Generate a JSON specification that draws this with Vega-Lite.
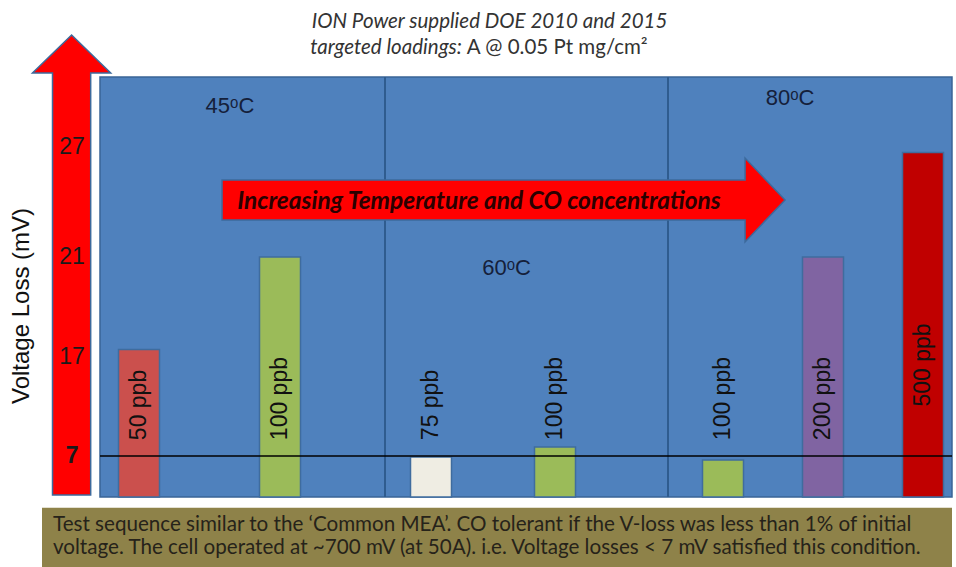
{
  "$schema": "https://vega.github.io/schema/vega-lite/v6.json",
  "width": 852,
  "height": 420,
  "autosize": {"type": "none"},
  "padding": {"left": 100, "top": 77, "right": 4, "bottom": 70},
  "background": "white",
  "config": {"view": {"fill": "#4F81BD", "stroke": "#3A6496", "strokeWidth": 1.5}, "font": "Liberation Sans"},
  "datasets": {
    "tests": [
      {"pos": 1, "temp": "45°C", "conc": "50 ppb", "loss": 17.3},
      {"pos": 2, "temp": "45°C", "conc": "100 ppb", "loss": 21},
      {"pos": 3, "temp": "60°C", "conc": "75 ppb", "loss": 6.9},
      {"pos": 4, "temp": "60°C", "conc": "100 ppb", "loss": 7.9},
      {"pos": 5, "temp": "80°C", "conc": "100 ppb", "loss": 6.6},
      {"pos": 6, "temp": "80°C", "conc": "200 ppb", "loss": 21},
      {"pos": 7, "temp": "80°C", "conc": "500 ppb", "loss": 26.7}
    ],
    "ticks": [{"tick": 7}, {"tick": 17}, {"tick": 21}, {"tick": 27}]
  },
  "layer": [
    {
      "layer": [
        {
          "data": {"values": [{"split": 2.5}, {"split": 4.5}]},
          "mark": {"type": "rule", "color": "#2F5C8F", "strokeWidth": 2},
          "encoding": {
            "x": {"field": "split", "type": "quantitative", "axis": null,
              "scale": {"domain": [0.5, 1, 2, 2.5, 3, 4, 4.5, 5, 6, 7, 7.5], "range": [0, 39, 180, 285, 331, 455, 568, 623, 723, 823, 852], "nice": false, "zero": false}}
          }
        },
        {
          "data": {"name": "tests"},
          "mark": {"type": "bar", "size": 41, "stroke": "#3F6C9E", "strokeWidth": 1.5},
          "encoding": {
            "x": {"field": "pos", "type": "quantitative", "axis": null},
            "y": {"field": "loss", "type": "quantitative", "axis": null,
              "scale": {"domain": [3, 7, 17, 21, 27, 30.8], "range": [420, 379, 280, 180, 70, 0], "nice": false, "zero": false}},
            "y2": {"datum": 3},
            "color": {"field": "conc", "type": "nominal", "legend": null,
              "scale": {"domain": ["50 ppb", "75 ppb", "100 ppb", "200 ppb", "500 ppb"], "range": ["#CB504D", "#EFEDE3", "#9BBB59", "#8064A2", "#C00000"]}}
          }
        },
        {
          "data": {"values": [{"limit": 7}]},
          "mark": {"type": "rule", "color": "#000000", "strokeWidth": 1.5},
          "encoding": {"y": {"field": "limit", "type": "quantitative", "axis": null}}
        },
        {
          "data": {"name": "tests"},
          "transform": [{"filter": "datum.conc != '500 ppb'"}],
          "mark": {"type": "text", "angle": 270, "align": "left", "baseline": "middle", "font": "Liberation Sans", "fontSize": 23, "color": "#111111"},
          "encoding": {
            "x": {"field": "pos", "type": "quantitative", "axis": null},
            "y": {"datum": 8.6, "type": "quantitative", "axis": null},
            "text": {"field": "conc"}
          }
        },
        {
          "data": {"name": "tests"},
          "transform": [{"filter": "datum.conc == '500 ppb'"}],
          "mark": {"type": "text", "angle": 270, "align": "left", "baseline": "middle", "font": "Liberation Sans", "fontSize": 23, "color": "#111111"},
          "encoding": {
            "x": {"field": "pos", "type": "quantitative", "axis": null},
            "y": {"datum": 12, "type": "quantitative", "axis": null},
            "text": {"field": "conc"}
          }
        },
        {
          "data": {"values": [{"note": "Increasing Temperature and CO concentrations"}]},
          "layer": [
            {
              "mark": {"type": "point", "shape": "M-1,-0.071L0.858,-0.071L0.858,-0.149L1,0L0.858,0.149L0.858,0.071L-1,0.071Z", "size": 316969, "filled": true, "color": "#FF0000", "stroke": "#3D6A9C", "strokeWidth": 1.5, "opacity": 1},
              "encoding": {
                "x": {"datum": 3.585, "type": "quantitative", "axis": null},
                "y": {"datum": 24.11, "type": "quantitative", "axis": null}
              }
            },
            {
              "mark": {"type": "text", "font": "Lato", "fontSize": 24.5, "fontWeight": "bold", "fontStyle": "italic", "color": "#2B0000", "align": "center", "baseline": "middle"},
              "encoding": {
                "x": {"datum": 3.387, "type": "quantitative", "axis": null},
                "y": {"datum": 24.0, "type": "quantitative", "axis": null},
                "text": {"field": "note"}
              }
            }
          ]
        },
        {
          "data": {"values": [{"temp": "45ᵒC"}]},
          "mark": {"type": "text", "font": "Liberation Sans", "fontSize": 22, "color": "#15203A", "align": "center", "baseline": "middle"},
          "encoding": {
            "x": {"datum": 1.645, "type": "quantitative", "axis": null},
            "y": {"datum": 29.24, "type": "quantitative", "axis": null},
            "text": {"field": "temp"}
          }
        },
        {
          "data": {"values": [{"temp": "60ᵒC"}]},
          "mark": {"type": "text", "font": "Liberation Sans", "fontSize": 22, "color": "#15203A", "align": "center", "baseline": "middle"},
          "encoding": {
            "x": {"datum": 3.61, "type": "quantitative", "axis": null},
            "y": {"datum": 20.56, "type": "quantitative", "axis": null},
            "text": {"field": "temp"}
          }
        },
        {
          "data": {"values": [{"temp": "80ᵒC"}]},
          "mark": {"type": "text", "font": "Liberation Sans", "fontSize": 22, "color": "#15203A", "align": "center", "baseline": "middle"},
          "encoding": {
            "x": {"datum": 5.67, "type": "quantitative", "axis": null},
            "y": {"datum": 29.67, "type": "quantitative", "axis": null},
            "text": {"field": "temp"}
          }
        },
        {
          "data": {"values": [{"name": "voltage loss axis arrow"}]},
          "mark": {"type": "point", "shape": "M-0.083,1L-0.083,-0.835L-0.17,-0.835L0,-1L0.17,-0.835L0.083,-0.835L0.083,1Z", "size": 211600, "filled": true, "color": "#FF0000", "stroke": "#3D6A9C", "strokeWidth": 1.5, "opacity": 1},
          "encoding": {
            "x": {"datum": 0.064, "type": "quantitative", "axis": null},
            "y": {"datum": 20.68, "type": "quantitative", "axis": null}
          }
        },
        {
          "data": {"name": "ticks"},
          "transform": [{"filter": "datum.tick != 7"}],
          "mark": {"type": "text", "font": "Liberation Sans", "fontSize": 23, "color": "#1A1A1A", "align": "center", "baseline": "middle"},
          "encoding": {
            "x": {"datum": 0.07, "type": "quantitative", "axis": null},
            "y": {"field": "tick", "type": "quantitative", "axis": null},
            "text": {"field": "tick"}
          }
        },
        {
          "data": {"name": "ticks"},
          "transform": [{"filter": "datum.tick == 7"}],
          "mark": {"type": "text", "font": "Liberation Sans", "fontSize": 23, "fontWeight": "bold", "color": "#1A1A1A", "align": "center", "baseline": "middle"},
          "encoding": {
            "x": {"datum": 0.07, "type": "quantitative", "axis": null},
            "y": {"field": "tick", "type": "quantitative", "axis": null},
            "text": {"field": "tick"}
          }
        },
        {
          "data": {"values": [{"title": "Voltage Loss (mV)"}]},
          "mark": {"type": "text", "font": "Liberation Sans", "fontSize": 24, "color": "#111111", "align": "center", "baseline": "middle", "angle": 270},
          "encoding": {
            "x": {"datum": -0.63, "type": "quantitative", "axis": null},
            "y": {"datum": 19.04, "type": "quantitative", "axis": null},
            "text": {"field": "title"}
          }
        },
        {
          "data": {"values": [{"line": "ION Power supplied DOE 2010 and 2015"}]},
          "mark": {"type": "text", "font": "Lato", "fontSize": 20.5, "fontStyle": "italic", "color": "#333333", "align": "center", "baseline": "middle"},
          "encoding": {
            "x": {"datum": 3.472, "type": "quantitative", "axis": null},
            "y": {"datum": 33.8, "type": "quantitative", "axis": null},
            "text": {"field": "line"}
          }
        },
        {
          "data": {"values": [{"line": "targeted loadings:"}]},
          "mark": {"type": "text", "font": "Lato", "fontSize": 20.5, "fontStyle": "italic", "color": "#333333", "align": "right", "baseline": "middle", "dx": -2},
          "encoding": {
            "x": {"datum": 3.265, "type": "quantitative", "axis": null},
            "y": {"datum": 32.35, "type": "quantitative", "axis": null},
            "text": {"field": "line"}
          }
        },
        {
          "data": {"values": [{"line": "A @ 0.05 Pt mg/cm²"}]},
          "mark": {"type": "text", "font": "Lato", "fontSize": 20.5, "color": "#333333", "align": "left", "baseline": "middle", "dx": 3},
          "encoding": {
            "x": {"datum": 3.265, "type": "quantitative", "axis": null},
            "y": {"datum": 32.35, "type": "quantitative", "axis": null},
            "text": {"field": "line"}
          }
        }
      ]
    },
    {
      "data": {"values": [
        {"line": 1, "text": "Test sequence similar to the ‘Common MEA’. CO tolerant if the V-loss was less than 1% of initial"},
        {"line": 2, "text": "voltage. The cell operated at ~700 mV (at 50A). i.e. Voltage losses < 7 mV satisfied this condition."}
      ]},
      "layer": [
        {
          "transform": [{"filter": "datum.line == 1"}],
          "mark": {"type": "rect", "color": "#8E8249"},
          "encoding": {
            "x": {"datum": 0, "type": "quantitative", "axis": null, "scale": {"domain": [0, 1], "range": [-58, 852], "nice": false, "zero": false}},
            "x2": {"datum": 1},
            "y": {"datum": 0.25, "type": "quantitative", "axis": null, "scale": {"domain": [0, 3], "range": [425, 494], "nice": false, "zero": false}},
            "y2": {"datum": 3}
          }
        },
        {
          "mark": {"type": "text", "font": "Lato", "fontSize": 20.6, "color": "#26231A", "align": "left", "baseline": "middle", "dx": 11},
          "encoding": {
            "x": {"datum": 0, "type": "quantitative", "axis": null},
            "y": {"field": "line", "type": "quantitative", "axis": null},
            "text": {"field": "text"}
          }
        }
      ]
    }
  ],
  "resolve": {"scale": {"x": "independent", "y": "independent"}}
}
